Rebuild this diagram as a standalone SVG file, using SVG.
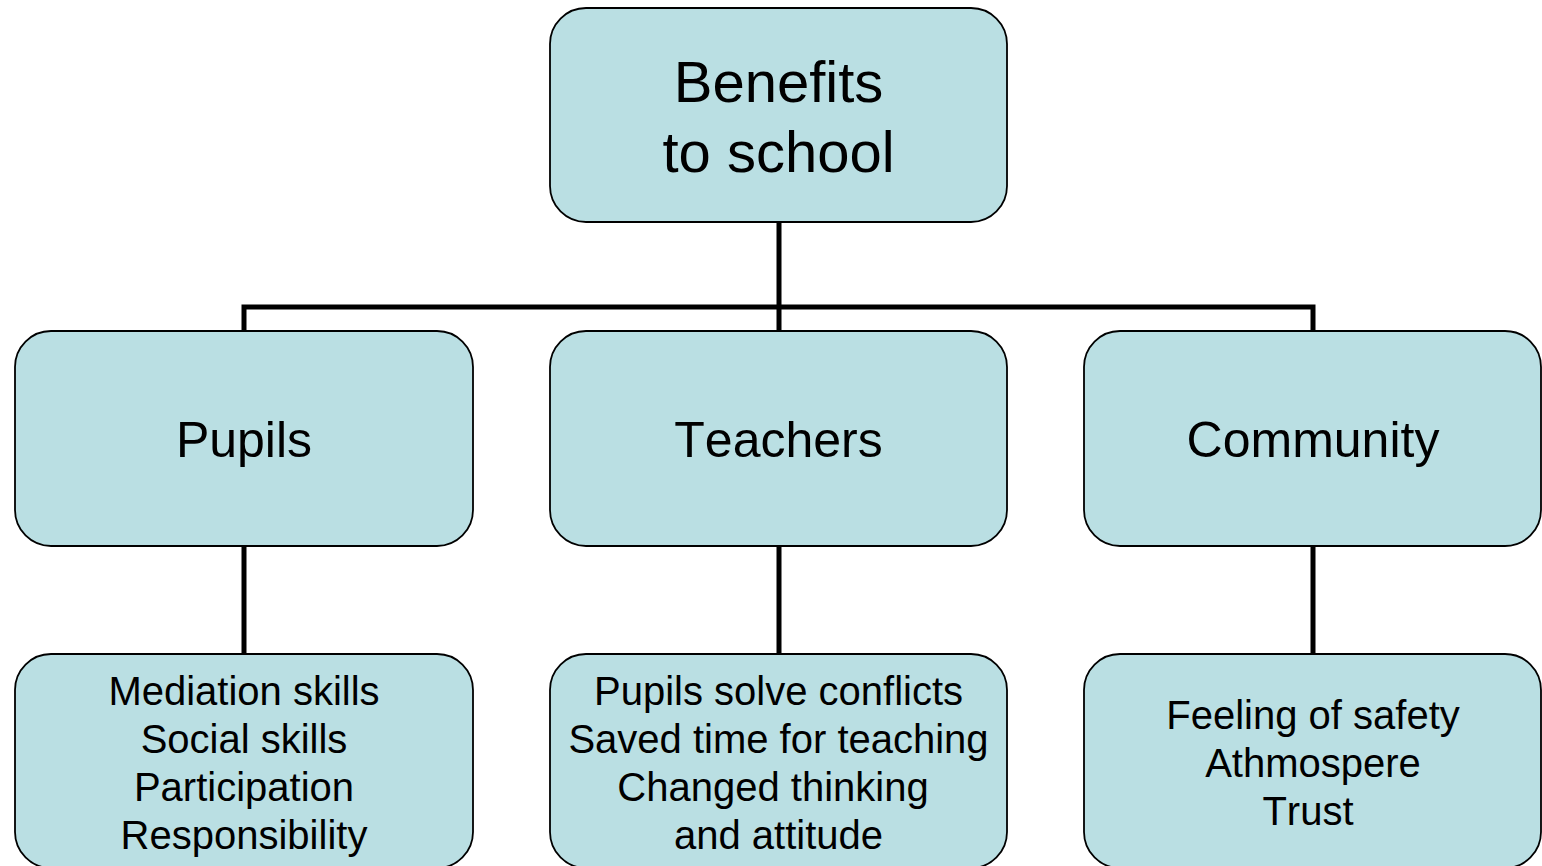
<svg xmlns="http://www.w3.org/2000/svg" width="1542" height="866" viewBox="0 0 1542 866">
<style>
.box{fill:#BADFE3;stroke:#000;stroke-width:1.8}
.t{font-family:"Liberation Sans",Arial,sans-serif;fill:#000;text-anchor:middle;font-kerning:none}
.big{font-size:58px}
.mid{font-size:50px}
.sm{font-size:40px}
.c{fill:none;stroke:#000;stroke-width:5}
</style>
<rect width="1542" height="866" fill="#fff"/>
<g id="connectors">
<path class="c" d="M779 222 V307 M244 331 V307 H1313 V331 M779 307 V331"/>
<path class="c" d="M244 546 V654 M779 546 V654 M1313 546 V654"/>
</g>
<g id="root">
<rect class="box" x="550" y="8" width="457" height="214" rx="36"/>
<text class="t big" x="778.5" y="101.5">Benefits</text>
<text class="t big" x="778.5" y="171.5">to school</text>
</g>
<g id="pupils">
<rect class="box" x="15" y="331" width="458" height="215" rx="36"/>
<text class="t mid" x="244" y="457">Pupils</text>
</g>
<g id="teachers">
<rect class="box" x="550" y="331" width="457" height="215" rx="36"/>
<text class="t mid" x="778.5" y="457">Teachers</text>
</g>
<g id="community">
<rect class="box" x="1084" y="331" width="457" height="215" rx="36"/>
<text class="t mid" x="1313" y="457">Community</text>
</g>
<g id="pupils-benefits">
<rect class="box" x="15" y="654" width="458" height="214" rx="36"/>
<text class="t sm" x="244" y="705">Mediation skills</text>
<text class="t sm" x="244" y="753">Social skills</text>
<text class="t sm" x="244" y="801">Participation</text>
<text class="t sm" x="244" y="849">Responsibility</text>
</g>
<g id="teachers-benefits">
<rect class="box" x="550" y="654" width="457" height="214" rx="36"/>
<text class="t sm" x="778.5" y="705">Pupils solve conflicts</text>
<text class="t sm" x="778.5" y="753">Saved time for teaching</text>
<text class="t sm" x="773" y="801">Changed thinking</text>
<text class="t sm" x="778.5" y="849">and attitude</text>
</g>
<g id="community-benefits">
<rect class="box" x="1084" y="654" width="457" height="214" rx="36"/>
<text class="t sm" x="1313" y="729">Feeling of safety</text>
<text class="t sm" x="1313" y="777">Athmospere</text>
<text class="t sm" x="1308" y="825">Trust</text>
</g>
</svg>
